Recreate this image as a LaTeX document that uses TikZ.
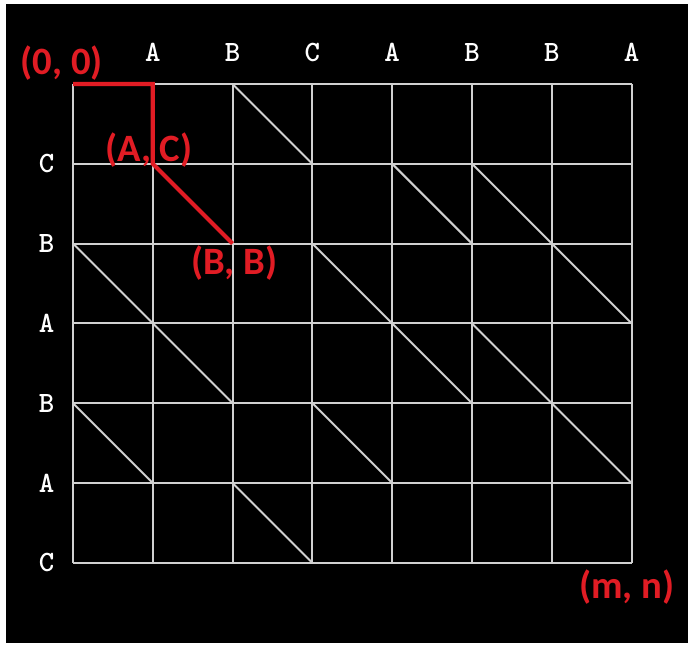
\documentclass[tikz,border=0pt]{standalone}
\usepackage{fontspec}
\newfontfamily\labelfont{Carlito}
\definecolor{lcsred}{RGB}{225,28,36}
\definecolor{gridgray}{RGB}{208,208,208}
\tikzset{
  char/.style={text=white,font=\ttfamily\bfseries\fontsize{10.5}{10.5}\selectfont},
  poslabel/.style={text=lcsred,font=\labelfont\bfseries\fontsize{13.8}{13.8}\selectfont},
  cellline/.style={gridgray,line width=0.7pt},
  tracepath/.style={lcsred,line width=1.5pt}
}
\begin{document}
\begin{tikzpicture}[x=1cm,y=-1cm]
\fill[white] (-0.915,-1.053) rectangle (7.832,7.105);
\fill[black] (-0.84,-1.003) rectangle (7.707,7.005);
\draw[cellline] (0,0) grid (7,6);
% matches
\draw[cellline] (2,0)--(3,1); %C
\draw[cellline] (1,1)--(2,2); \draw[cellline] (4,1)--(5,2); \draw[cellline] (5,1)--(6,2); %B
\draw[cellline] (0,2)--(1,3); \draw[cellline] (3,2)--(4,3); \draw[cellline] (6,2)--(7,3); %A
\draw[cellline] (1,3)--(2,4); \draw[cellline] (4,3)--(5,4); \draw[cellline] (5,3)--(6,4); %B
\draw[cellline] (0,4)--(1,5); \draw[cellline] (3,4)--(4,5); \draw[cellline] (6,4)--(7,5); %A
\draw[cellline] (2,5)--(3,6); %C
% first string
\node[char] (x1) at (1,-0.40){A};
\node[char] (x2) at (2,-0.40){B};
\node[char] (x3) at (3,-0.40){C};
\node[char] (x4) at (4,-0.40){A};
\node[char] (x5) at (5,-0.40){B};
\node[char] (x6) at (6,-0.40){B};
\node[char] (x7) at (7,-0.40){A};
% second string
\node[char] (y1) at (-0.33,1){C};
\node[char] (y2) at (-0.33,2){B};
\node[char] (y3) at (-0.33,3){A};
\node[char] (y4) at (-0.33,4){B};
\node[char] (y5) at (-0.33,5){A};
\node[char] (y6) at (-0.33,6){C};
% path
\coordinate (start) at (0,0);
\coordinate (ac) at (1,1);
\coordinate (bb) at (2,2);
\draw[tracepath] (start) -| (ac) -- (bb);
\node[poslabel] (lstart) at (-0.14,-0.26){(0, 0)};
\node[poslabel] (lac) at (0.95,0.83){(A, C)};
\node[poslabel] (lbb) at (2.02,2.24){(B, B)};
\node[poslabel] (lmn) at (6.94,6.30){(m, n)};
\end{tikzpicture}
\end{document}
